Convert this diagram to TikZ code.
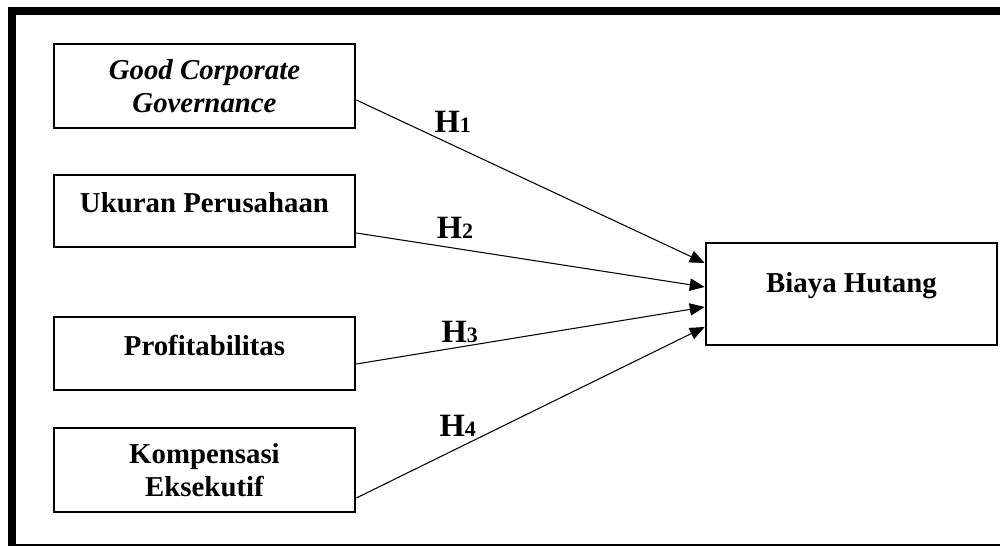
\documentclass[tikz,border=0pt]{standalone}
\usepackage{fontspec}
\setmainfont{Liberation Serif}
\usepackage{tikz}
\usetikzlibrary{arrows.meta,positioning}
\newcommand{\hyp}[1]{H{\fontsize{12.5}{13}\selectfont #1}}

\begin{document}
\begin{tikzpicture}
[thick,>={Triangle[length=8.5pt,width=7pt]},
 var/.style={draw,line width=1.5pt,minimum width=6.02cm,align=center,
   font=\fontsize{16.4}{19}\selectfont\bfseries},
 hlabel/.style={inner sep=0pt,font=\fontsize{18.5}{20}\selectfont\bfseries}]
\useasboundingbox (0,0) rectangle (20,-10.92);
\draw[line width=4.5pt] (20.3,-0.22) -- (0.24,-0.22) -- (0.24,-10.95) -- (20.3,-10.95);
\node[var,minimum height=1.68cm] (gcg) at (4.09,-1.72) {\itshape Good Corporate\\\itshape Governance};
\node[var,minimum height=1.44cm,text depth=0.32cm] (size) at (4.09,-4.22) {Ukuran Perusahaan};
\node[var,minimum height=1.46cm,text depth=0.34cm] (prof) at (4.09,-7.07) {Profitabilitas};
\node[var,minimum height=1.68cm] (komp) at (4.09,-9.40) {Kompensasi\\Eksekutif};
\node[var,minimum width=5.82cm,minimum height=2.04cm,text depth=0.44cm] (debt) at (17.03,-5.88) {Biaya Hutang};
\draw[->,line width=0.6pt] ([yshift=-0.28cm]gcg.east) to node[hlabel,pos=0.277,above=0.24cm] {\hyp{1}} ([yshift=0.62cm]debt.west);
\draw[->,line width=0.6pt] ([yshift=-0.44cm]size.east) to node[hlabel,pos=0.283,above=0.18cm] {\hyp{2}} ([yshift=0.14cm]debt.west);
\draw[->,line width=0.6pt] ([yshift=-0.21cm]prof.east) to node[hlabel,pos=0.297,above=0.08cm] {\hyp{3}} ([yshift=-0.26cm]debt.west);
\draw[->,line width=0.6pt] ([yshift=-0.56cm]komp.east) to node[hlabel,pos=0.291,above=0.22cm] {\hyp{4}} ([yshift=-0.66cm]debt.west);
\end{tikzpicture}
\end{document}
